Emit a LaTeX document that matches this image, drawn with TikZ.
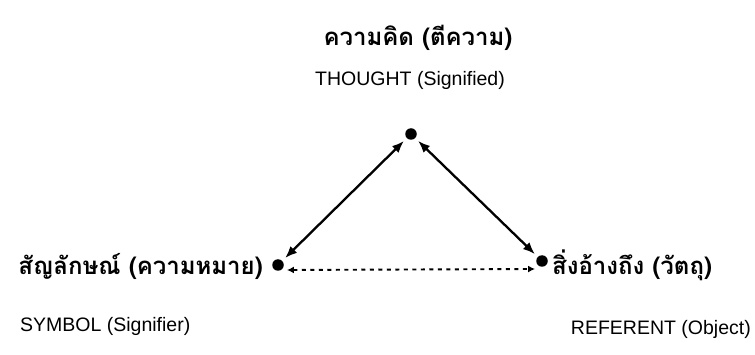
\documentclass[tikz,border=0pt]{standalone}
\usepackage{fontspec}
\setmainfont{Liberation Sans}
\newfontfamily\thaifont[Script=Thai]{Loma}
\usetikzlibrary{arrows.meta}
\begin{document}
\begin{tikzpicture}[x=1pt,y=-1pt,
  dot/.style={circle,fill=black,inner sep=0pt,minimum size=11.5pt},
  thai/.style={font=\thaifont\bfseries\fontsize{24}{26}\selectfont,inner sep=0pt},
  eng/.style={font=\fontsize{19.5}{22}\selectfont,inner sep=0pt},
  link/.style={line width=2.3pt,{Latex[length=12pt,width=9.5pt]}-{Latex[length=12pt,width=9.5pt]}},
  dlink/.style={line width=1.9pt,dash pattern=on 4pt off 4.5pt,{Latex[length=7pt,width=7pt]}-{Latex[length=7pt,width=7pt]}}]
\useasboundingbox (0,0) rectangle (755,355);
\node[dot] (t) at (411,134) {};
\node[dot] (l) at (278,265) {};
\node[dot] (r) at (542,261) {};
\node[thai] (tth) at (418,38) {ความคิด (ตีความ)};
\node[eng] (ten) at (410,80) {THOUGHT (Signified)};
\node[thai,anchor=east] (lth) at (263,266) {สัญลักษณ์ (ความหมาย)};
\node[eng,anchor=west] (len) at (20,326) {SYMBOL (Signifier)};
\node[thai,anchor=west] (rth) at (552,265) {สิ่งอ้างถึง (วัตถุ)};
\node[eng,anchor=east] (ren) at (751,329) {REFERENT (Object)};
\draw[link,shorten <=4pt,shorten >=4pt] (l) -- (t);
\draw[link,shorten <=4pt,shorten >=4pt] (t) -- (r);
\draw[dlink] ([xshift=3pt,yshift=-5pt]l.east) -- ([xshift=-1pt,yshift=-8pt]r.west);
\end{tikzpicture}
\end{document}
